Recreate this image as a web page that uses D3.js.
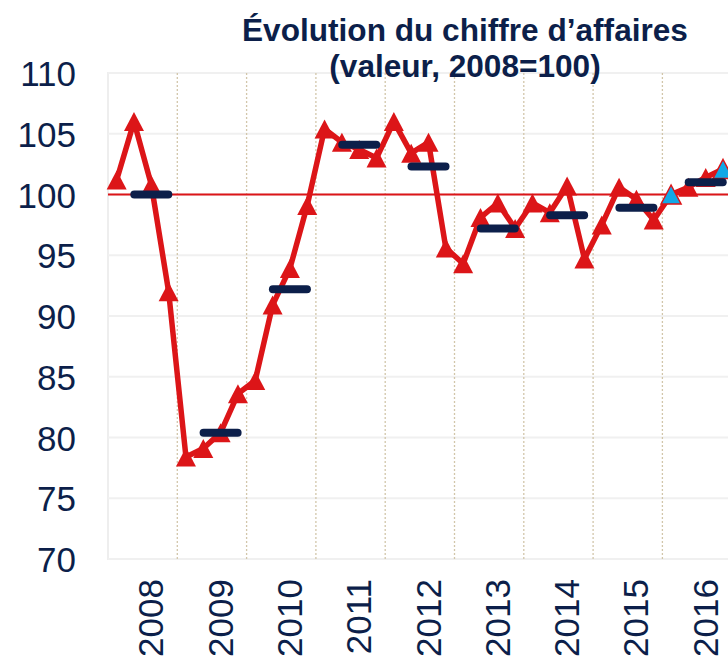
<!DOCTYPE html>
<html>
<head>
<meta charset="utf-8">
<script src="https://cdn.jsdelivr.net/npm/d3@7"></script>
<style>
  html, body { margin: 0; padding: 0; background: #fff; }
  svg { display: block; font-family: "Liberation Sans", Arial, sans-serif; }
</style>
</head>
<body>
<svg id="chart" width="728" height="666"></svg>
<script>
// ---- Data ----
const years = ["2008", "2009", "2010", "2011", "2012", "2013", "2014", "2015", "2016"];
const quarters = ["T1", "T2", "T3", "T4"];
const quarterlyValues = [
  101.2, 106.0, 100.8, 92.0,
  78.4, 79.1, 80.4, 83.6,
  84.7, 90.9, 93.9, 99.1,
  105.4, 104.3, 103.7, 103.0,
  106.0, 103.4, 104.3, 95.6,
  94.3, 98.1, 99.3, 97.2,
  99.3, 98.5, 100.7, 94.7,
  97.5, 100.6, 99.6, 97.9,
  100.0, 100.6, 101.4, 102.1
];
// quarters drawn as estimates (blue markers)
const estimatedQuarters = ["2016-T1", "2016-T4"];
const annualValues = [100.0, 80.4, 92.2, 104.1, 102.3, 97.2, 98.3, 98.9, 101.0];
const yTicks = [70, 75, 80, 85, 90, 95, 100, 105, 110];
const referenceValue = 100;
const titleLines = ["Évolution du chiffre d’affaires", "(valeur, 2008=100)"];

// ---- Layout ----
const navy = "#0c1f4a";
const red = "#dc1518";
const blue = "#12a8e6";
const plotLeft = 108, plotTop = 73, plotBottom = 559;
const yearWidth = 69.3;
const plotRight = plotLeft + yearWidth * years.length;

const svg = d3.select("#chart");

const qKeys = [];
years.forEach(yr => quarters.forEach(q => qKeys.push(yr + "-" + q)));
const points = qKeys.map((k, i) => ({ key: k, year: k.slice(0, 4), value: quarterlyValues[i] }));

const x = d3.scaleBand().domain(qKeys).range([plotLeft, plotRight]).padding(0);
const xYear = d3.scaleBand().domain(years).range([plotLeft, plotRight]).padding(0);
const y = d3.scaleLinear().domain([70, 110]).range([plotBottom, plotTop]);
const cx = k => x(k) + x.bandwidth() / 2;

// plot area border
svg.append("rect")
  .attr("x", plotLeft).attr("y", plotTop)
  .attr("width", plotRight - plotLeft).attr("height", plotBottom - plotTop)
  .attr("fill", "none").attr("stroke", "#eeeeee").attr("stroke-width", 2);

// horizontal gridlines
svg.append("g").selectAll("line").data(yTicks).join("line")
  .attr("x1", plotLeft).attr("x2", plotRight)
  .attr("y1", d => y(d)).attr("y2", d => y(d))
  .attr("stroke", "#f0f0f0").attr("stroke-width", 2);

// vertical dotted year separators
svg.append("g").selectAll("line").data(years.slice(1)).join("line")
  .attr("x1", d => xYear(d)).attr("x2", d => xYear(d))
  .attr("y1", plotTop).attr("y2", plotBottom)
  .attr("stroke", "#d2c6aa").attr("stroke-width", 1.3)
  .attr("stroke-dasharray", "2,2");

// y axis labels
const yAxis = d3.axisLeft(y).tickValues(yTicks).tickSize(0).tickPadding(0);
const gy = svg.append("g").attr("transform", "translate(76,0)").call(yAxis);
gy.select(".domain").remove();
gy.selectAll("text")
  .attr("fill", navy).attr("font-size", 35)
  .attr("font-family", "'Liberation Sans', Arial, sans-serif")
  .attr("dy", "0.36em");

// x axis labels (rotated), positioned at third quarter of each year
const gx = svg.append("g");
gx.selectAll("text").data(years).join("text")
  .attr("transform", d => `translate(${cx(d + "-T3") + 12},579) rotate(-90)`)
  .attr("text-anchor", "end")
  .attr("fill", navy).attr("font-size", 35)
  .text(d => d);

// reference line at 100
svg.append("line")
  .attr("x1", plotLeft).attr("x2", plotRight)
  .attr("y1", y(referenceValue)).attr("y2", y(referenceValue))
  .attr("stroke", red).attr("stroke-width", 2);

// quarterly line
const line = d3.line().x(d => cx(d.key)).y(d => y(d.value));
svg.append("path").datum(points)
  .attr("d", line)
  .attr("fill", "none").attr("stroke", red)
  .attr("stroke-width", 5.5).attr("stroke-linejoin", "round");

// triangle markers
const tri = "M0,-9.5L10,9.5L-10,9.5Z";
svg.append("g").selectAll("path").data(points).join("path")
  .attr("transform", d => `translate(${cx(d.key)},${y(d.value)})`)
  .attr("d", tri)
  .attr("fill", d => estimatedQuarters.includes(d.key) ? blue : red)
  .attr("stroke", red)
  .attr("stroke-width", d => estimatedQuarters.includes(d.key) ? 1.5 : 0);

// annual average dashes
svg.append("g").selectAll("line").data(years).join("line")
  .attr("x1", d => cx(d + "-T3") - 17)
  .attr("x2", d => cx(d + "-T3") + 17)
  .attr("y1", (d, i) => y(annualValues[i]))
  .attr("y2", (d, i) => y(annualValues[i]))
  .attr("stroke", navy).attr("stroke-width", 8)
  .attr("stroke-linecap", "round");

// title
svg.append("g").selectAll("text").data(titleLines).join("text")
  .attr("x", 465).attr("y", (d, i) => 41 + i * 36)
  .attr("text-anchor", "middle")
  .attr("font-weight", "bold").attr("font-size", 31.6)
  .attr("fill", navy)
  .text(d => d);
</script>
</body>
</html>
